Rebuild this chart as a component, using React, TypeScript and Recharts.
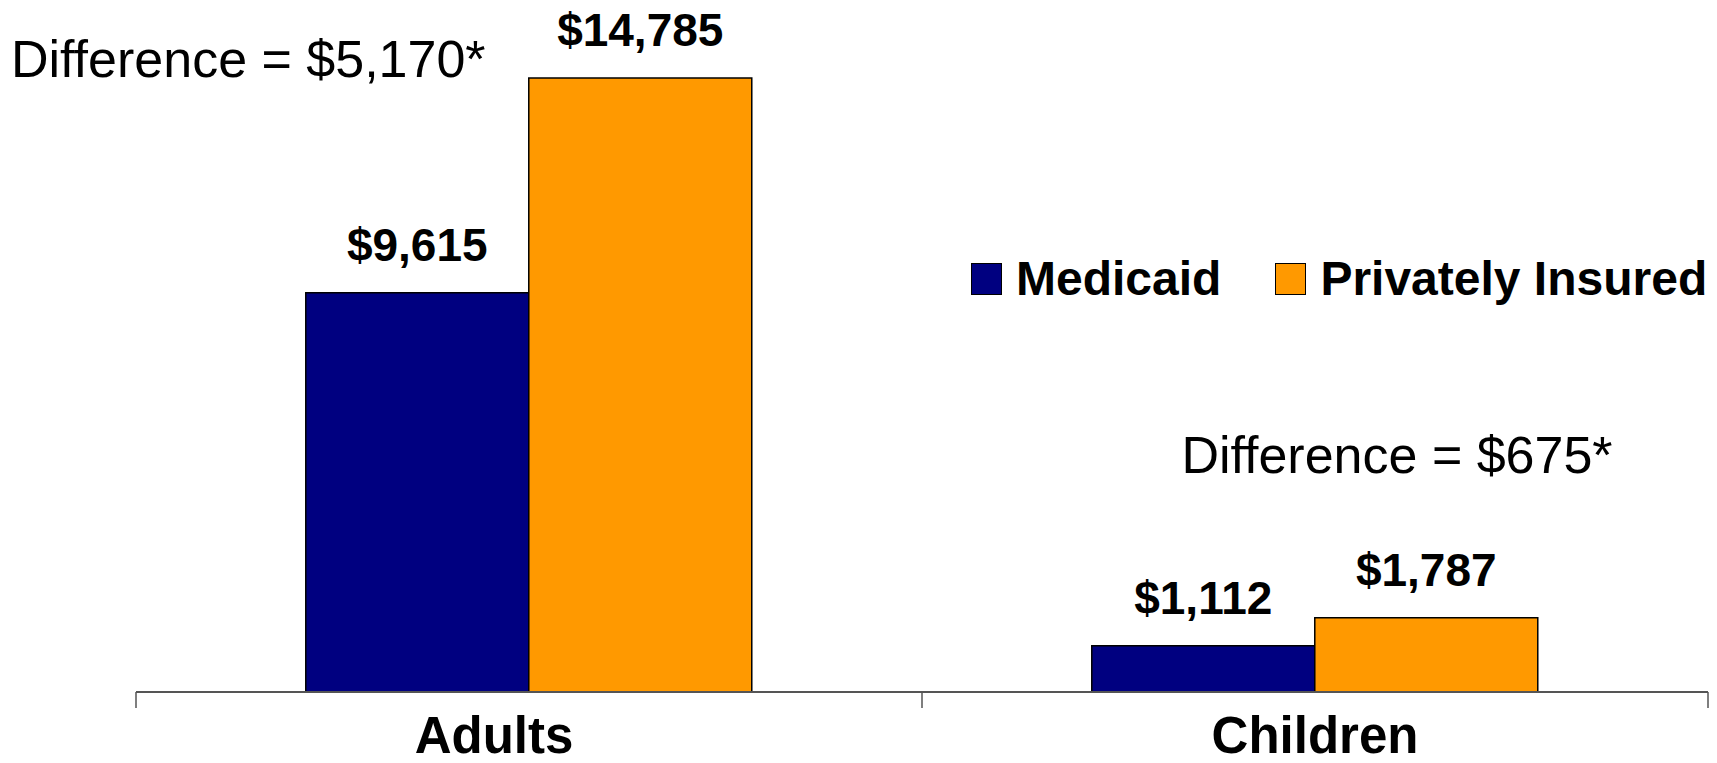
import React from 'react'
import {
  BarChart,
  Bar,
  XAxis,
  YAxis,
  Legend,
  LabelList,
  Customized,
} from 'recharts'

const categories = ['Adults', 'Children']
const medicaid = [9615, 1112]
const privatelyInsured = [14785, 1787]
const differences = ['Difference = $5,170*', 'Difference = $675*']

const data = categories.map((name, i) => ({
  name,
  medicaid: medicaid[i],
  privatelyInsured: privatelyInsured[i],
}))

const FONT = '"Liberation Sans", Arial, sans-serif'
const WIDTH = 1717
const HEIGHT = 763
const MARGIN = { top: 27.5, right: 9, bottom: 0, left: 136 }
const PLOT_W = WIDTH - MARGIN.left - MARGIN.right

const money = (v: any) => `$${Number(v).toLocaleString('en-US')}`

const CategoryTick = (props: any) => {
  const { x, y, payload, index } = props
  const half =
    payload && payload.offset > 0 ? payload.offset : PLOT_W / categories.length / 2
  const last = index === categories.length - 1
  const dx = index === 0 ? -35 : 0
  return (
    <g>
      <line x1={x - half} x2={x - half} y1={y} y2={y + 16} stroke="#555" strokeWidth={1.5} />
      {last && (
        <line x1={x + half} x2={x + half} y1={y} y2={y + 16} stroke="#555" strokeWidth={1.5} />
      )}
      <text
        x={x + dx}
        y={y + 61}
        textAnchor="middle"
        fontFamily={FONT}
        fontWeight="bold"
        fontSize={51}
        fill="#000"
      >
        {payload.value}
      </text>
    </g>
  )
}

const LegendContent = (props: any) => {
  const items = props.payload || []
  return (
    <div style={{ display: 'flex', alignItems: 'center', fontFamily: FONT, whiteSpace: 'nowrap' }}>
      {items.map((it: any, i: number) => (
        <div
          key={i}
          style={{ display: 'flex', alignItems: 'center', marginRight: i === 0 ? 54 : 0 }}
        >
          <div
            style={{
              width: 29,
              height: 30,
              background: it.color,
              border: '1.5px solid #000',
              marginRight: 14,
            }}
          />
          <span style={{ fontSize: 48, fontWeight: 'bold', color: '#000', lineHeight: 1 }}>
            {it.value}
          </span>
        </div>
      ))}
    </div>
  )
}

const Annotations = () => (
  <g fontFamily={FONT} fontSize={52} fill="#000">
    <text x={11} y={77} textAnchor="start">
      {differences[0]}
    </text>
    <text x={1397} y={473} textAnchor="middle">
      {differences[1]}
    </text>
  </g>
)

const App: React.FC = () => {
  return (
    <div style={{ position: 'absolute', left: 0, top: 0, width: WIDTH, height: HEIGHT, background: '#fff' }}>
      <BarChart
        width={WIDTH}
        height={HEIGHT}
        data={data}
        margin={MARGIN}
        barCategoryGap="21.6%"
        barGap={0}
      >
        <XAxis
          dataKey="name"
          height={71}
          axisLine={{ stroke: '#555', strokeWidth: 2 }}
          tickLine={false}
          tickSize={0}
          tickMargin={0}
          interval={0}
          tick={<CategoryTick />}
        />
        <YAxis hide domain={[0, 16000]} />
        <Legend
          layout="horizontal"
          align="center"
          verticalAlign="middle"
          content={<LegendContent />}
          wrapperStyle={{ position: 'absolute', left: 971, top: 255, width: 'auto' }}
        />
        <Bar
          dataKey="medicaid"
          name="Medicaid"
          fill="#000080"
          stroke="#000"
          strokeWidth={1.5}
          isAnimationActive={false}
        >
          <LabelList
            dataKey="medicaid"
            position="top"
            offset={32}
            formatter={money}
            style={{ fontFamily: FONT, fontSize: 46, fontWeight: 'bold', fill: '#000' }}
          />
        </Bar>
        <Bar
          dataKey="privatelyInsured"
          name="Privately Insured"
          fill="#FF9900"
          stroke="#000"
          strokeWidth={1.5}
          isAnimationActive={false}
        >
          <LabelList
            dataKey="privatelyInsured"
            position="top"
            offset={32}
            formatter={money}
            style={{ fontFamily: FONT, fontSize: 46, fontWeight: 'bold', fill: '#000' }}
          />
        </Bar>
        <Customized component={Annotations} />
      </BarChart>
    </div>
  )
}

export default App
